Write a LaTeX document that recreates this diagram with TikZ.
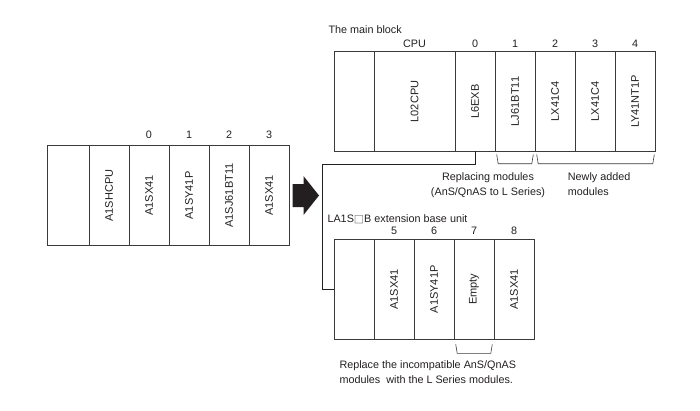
\documentclass[tikz,border=0pt]{standalone}
\usepackage{fontspec}
\setmainfont{Liberation Sans}
\newfontfamily\symfont{DejaVu Sans}
\usetikzlibrary{positioning}
\definecolor{ink}{HTML}{231F20}
\definecolor{rack}{HTML}{3A3A3A}
\newcommand{\slotname}[1]{\rotatebox{90}{\fontsize{11}{13}\selectfont #1}}

\begin{document}
\begin{tikzpicture}[x=1pt,y=1pt,node distance=0pt,label distance=0.8pt,
                    font=\fontsize{10.8}{15}\selectfont,text=ink]
  \tikzstyle{slot}=[draw=rack,line width=0.9pt,minimum width=40pt,minimum height=100pt,
                    inner sep=0pt,outer sep=0pt]
  \tikzstyle{brk}=[draw=rack,line width=0.6pt]
  \tikzstyle{link}=[draw=ink,line width=0.9pt]

  \useasboundingbox (0,0) rectangle (700,410);

  % rack before replacement
  \begin{scope}[label distance=3.2pt]
  \node[slot,minimum width=42pt] (a0) at (68,214.5) {};
  \node[slot]              (a1) [right=of a0] {\slotname{A1SHCPU}};
  \node[slot,label=above:0] (a2) [right=of a1] {\slotname{A1SX41}};
  \node[slot,label=above:1] (a3) [right=of a2] {\slotname{A1SY41P}};
  \node[slot,label=above:2] (a4) [right=of a3] {\slotname{A1SJ61BT11}};
  \node[slot,label=above:3] (a5) [right=of a4] {\slotname{A1SX41}};
  \end{scope}

  \fill[ink] (292.5,203) -- (303.5,203) -- (303.5,195) -- (319,214.5)
             -- (303.5,234) -- (303.5,226) -- (292.5,226) -- cycle;

  % main block
  \node[anchor=base west] (mtitle) at (325,376.7) {The main block};
  \node[slot]                                  (m0) at (354,308.5) {};
  \node[slot,minimum width=81pt,label=above:CPU] (m1) [right=of m0] {\slotname{L02CPU}};
  \node[slot,label=above:0] (m2) [right=of m1] {\slotname{L6EXB}};
  \node[slot,label=above:1] (m3) [right=of m2] {\slotname{LJ61BT11}};
  \node[slot,label=above:2] (m4) [right=of m3] {\slotname{LX41C4}};
  \node[slot,label=above:3] (m5) [right=of m4] {\slotname{LX41C4}};
  \node[slot,label=above:4] (m6) [right=of m5] {\slotname{LY41NT1P}};

  \draw[brk] ([shift={(1.7,-3)}]m3.south west) -- ++(1.5,-9.3)
             -- ([shift={(-3.2,-12.3)}]m3.south east) -- ++(1.5,9.3);
  \draw[brk] ([shift={(1.7,-3)}]m4.south west) -- ++(1.5,-9.3)
             -- ([shift={(-2.2,-12.3)}]m6.south east) -- ++(1.5,9.3);
  \node[align=center,anchor=north,inner sep=0pt] (repl) at (488,237.6)
       {Replacing modules\\(AnS/QnAS to L Series)};
  \node[align=left,anchor=north west,inner sep=0pt] (newly) at (567.7,237.6)
       {Newly added\\modules};

  % extension base unit
  \node[anchor=base west] (etitle) at (324,187.7)
       {LA1S{\symfont\color{gray}□}B extension base unit};
  \node[slot]               (e0) at (354,120.7) {};
  \node[slot,label=above:5] (e1) [right=of e0] {\slotname{A1SX41}};
  \node[slot,label=above:6] (e2) [right=of e1] {\slotname{A1SY41P}};
  \node[slot,label=above:7] (e3) [right=of e2] {\slotname{Empty}};
  \node[slot,label=above:8] (e4) [right=of e3] {\slotname{A1SX41}};

  \draw[brk] ([shift={(1.7,-5)}]e3.south west) -- ++(1.5,-9)
             -- ([shift={(-3.2,-14)}]e3.south east) -- ++(1.5,9);
  \node[align=left,anchor=north west,inner sep=0pt] (note) at (339.3,49.6)
       {Replace the incompatible AnS/QnAS\\modules~ with the L Series modules.};

  \coordinate (turn) at (322,245.7);
  \draw[link] (m2.south) |- (turn) |- (e0.west);
\end{tikzpicture}
\end{document}
